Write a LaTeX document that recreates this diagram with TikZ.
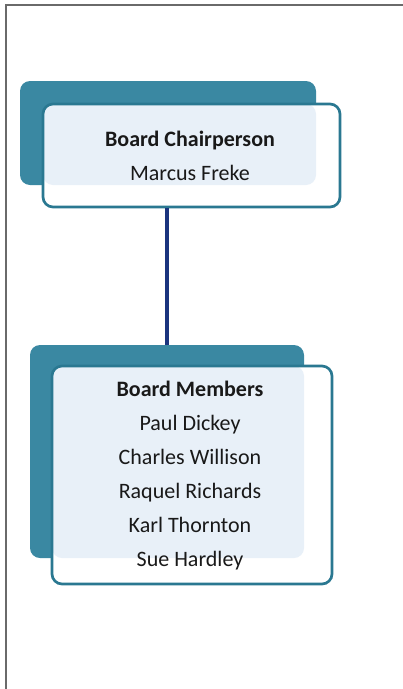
\documentclass[tikz,border=0pt]{standalone}
\usepackage{fontspec}
\setmainfont{Carlito}
\definecolor{tealback}{HTML}{3A88A2}
\definecolor{tealline}{HTML}{2A7891}
\definecolor{overlapfill}{HTML}{E8F0F8}
\definecolor{navyline}{HTML}{1A347E}
\definecolor{framegray}{HTML}{6A6A6A}
\tikzset{
  backbox/.style={fill=tealback, draw=none, rounded corners=7.5pt, inner sep=0pt},
  frontfill/.style={fill=white, draw=none, rounded corners=7.5pt, inner sep=0pt},
  overlapbox/.style={fill=overlapfill, draw=none, rounded corners=7.5pt, inner sep=0pt},
  frontline/.style={draw=tealline, line width=2pt, rounded corners=7.5pt, inner sep=0pt},
  label/.style={align=center, font=\fontsize{16.5pt}{25.5pt}\selectfont, text=black!90},
  link/.style={draw=navyline, line width=2.4pt},
  frameline/.style={draw=framegray, line width=2pt}
}
\begin{document}
\begin{tikzpicture}[x=0.75pt, y=-0.75pt]
\useasboundingbox (0,0) rectangle (403,689);
% frame
\coordinate (fa) at (6,690);
\coordinate (fb) at (6,5);
\coordinate (fc) at (404,5);
\draw[frameline] (fa) -- (fb) -- (fc);
% top box
\node[backbox, minimum width=222pt, minimum height=78pt] (tback) at (168,133) {};
\node[frontfill, minimum width=222.75pt, minimum height=77.25pt] (tfill) at (191.5,155.5) {};
\node[overlapbox, minimum width=204.75pt, minimum height=60.75pt] (tover) at (179.5,144.5) {};
\node[frontline, minimum width=222.75pt, minimum height=77.25pt] (tfront) at (191.5,155.5) {};
\node[label] (ttext) at (190,156) {\textbf{Board Chairperson}\\Marcus Freke};
% bottom box
\node[backbox, minimum width=205.5pt, minimum height=159.75pt] (bback) at (167,451.5) {};
\node[frontfill, minimum width=210pt, minimum height=163.5pt] (bfill) at (192,475) {};
\node[overlapbox, minimum width=189pt, minimum height=144pt] (bover) at (178,462) {};
\node[frontline, minimum width=210pt, minimum height=163.5pt] (bfront) at (192,475) {};
\node[label] (btext) at (190,476) {\textbf{Board Members}\\Paul Dickey\\Charles Willison\\Raquel Richards\\Karl Thornton\\Sue Hardley};
% connector
\draw[link] (bback.north |- tfront.south) -- (bback.north);
\end{tikzpicture}
\end{document}
